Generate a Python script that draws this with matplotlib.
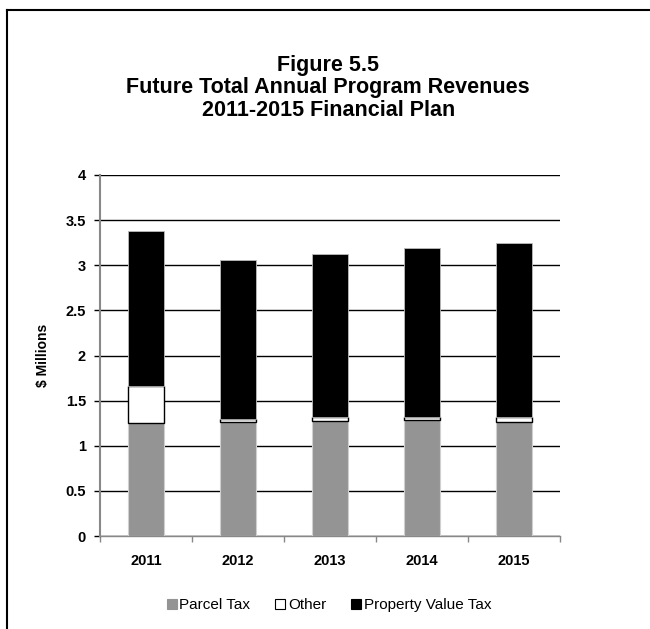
import matplotlib.pyplot as plt
from matplotlib.lines import Line2D
import numpy as np

# revenue by source, $ millions
years = ['2011', '2012', '2013', '2014', '2015']
parcel_tax = [1.25, 1.26, 1.27, 1.28, 1.26]
other = [0.41, 0.035, 0.05, 0.04, 0.055]
property_tax = [1.715, 1.76, 1.805, 1.87, 1.935]

plt.rcParams['font.family'] = ['Liberation Sans', 'DejaVu Sans']

fig = plt.figure(figsize=(6.5, 6.29), dpi=100)
ax = fig.add_axes([100 / 650, 93 / 629, 460 / 650, 361 / 629])

x = np.arange(len(years))
w = 0.4
bottom2 = np.array(parcel_tax)
bottom3 = bottom2 + np.array(other)
ax.bar(x, parcel_tax, w, color='#949494', edgecolor='#d0d0d0', linewidth=0.8,
       label='Parcel Tax', zorder=3)
ax.bar(x, other, w, bottom=bottom2, color='white', edgecolor='black', linewidth=1,
       label='Other', zorder=3)
ax.bar(x, property_tax, w, bottom=bottom3, color='black', edgecolor='#bbbbbb',
       linewidth=0.6, label='Property Value Tax', zorder=3)

ax.set_xlim(-0.5, len(years) - 0.5)
ax.set_ylim(0, 4)
ax.set_yticks(np.arange(0, 4.01, 0.5))
ax.set_yticklabels(['0', '0.5', '1', '1.5', '2', '2.5', '3', '3.5', '4'],
                   fontsize=10.5, fontweight='bold')
ax.yaxis.grid(True, color='black', linewidth=1)
ax.set_axisbelow(True)

# category labels centred, tick marks at the category edges
ax.set_xticks(x)
ax.set_xticklabels(years, fontsize=10.5, fontweight='bold')
ax.tick_params(axis='x', length=0, pad=13)
ax.set_xticks(np.arange(-0.5, len(years)), minor=True)
ax.tick_params(axis='x', which='minor', length=4, color='#888888', width=1)
ax.tick_params(axis='y', length=4, color='black', width=1, pad=6)

for s in ['top', 'right']:
    ax.spines[s].set_visible(False)
ax.spines['left'].set_color('#888888')
ax.spines['left'].set_linewidth(1.5)
ax.spines['bottom'].set_color('#888888')
ax.spines['bottom'].set_linewidth(1)

ax.set_ylabel('$ Millions', fontsize=10, fontweight='bold', labelpad=11)

fig.text(0.505, 1 - 88 / 629, 'Figure 5.5\nFuture Total Annual Program Revenues\n2011-2015 Financial Plan',
         ha='center', va='center', fontsize=15.5, fontweight='bold', linespacing=1.1)

handles = [Line2D([], [], marker='s', linestyle='none', markersize=6.5,
                  markerfacecolor=c, markeredgecolor=e, markeredgewidth=0.8)
           for c, e in [('#949494', '#949494'), ('white', 'black'), ('black', 'black')]]
fig.legend(handles, ['Parcel Tax', 'Other', 'Property Value Tax'],
           loc='center', bbox_to_anchor=(328 / 650, 1 - 605 / 629), ncol=3, frameon=False,
           fontsize=11, handletextpad=0.05, columnspacing=1.5, handlelength=0.9)

# frame lines along the top and left
fig.add_artist(Line2D([7 / 650, 1], [1 - 10 / 629, 1 - 10 / 629], color='black', linewidth=1.5))
fig.add_artist(Line2D([7 / 650, 7 / 650], [0, 1 - 10 / 629], color='black', linewidth=1.5))

fig.savefig('out.png', dpi=100)
